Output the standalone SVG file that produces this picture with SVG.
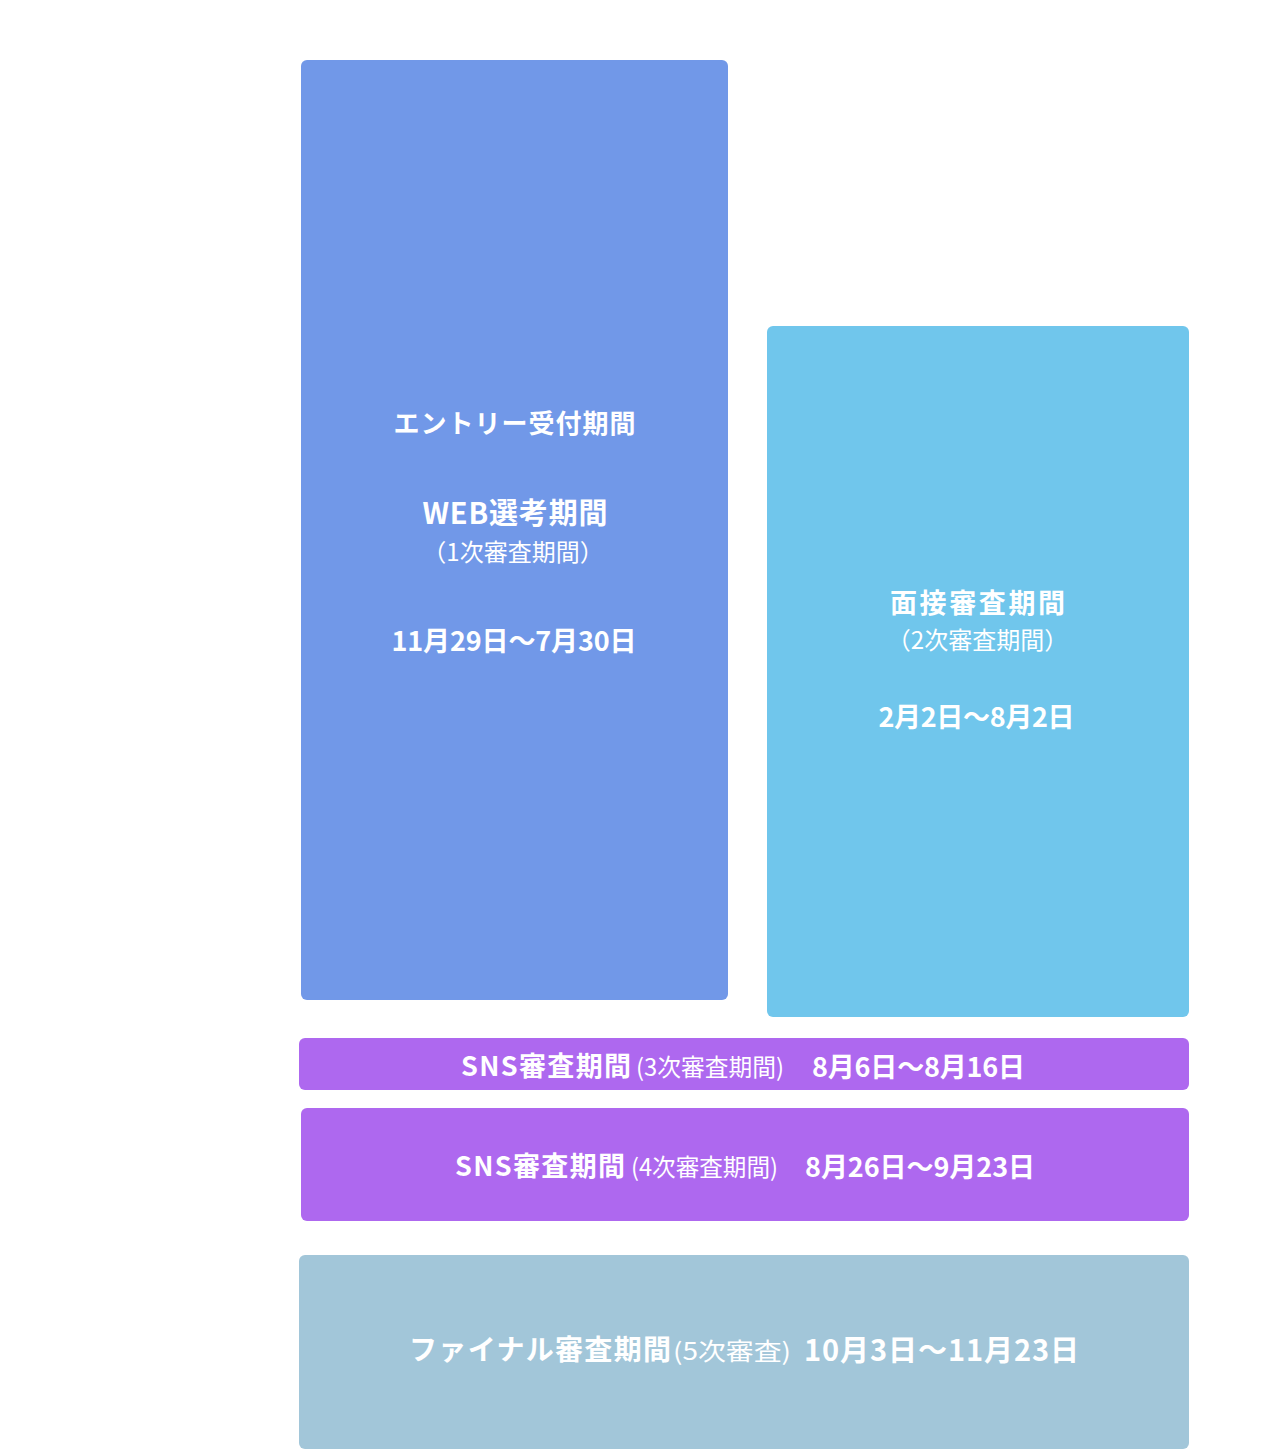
<svg xmlns="http://www.w3.org/2000/svg" width="1264" height="1452" viewBox="0 0 1264 1452">
<style>
.t{font-family:"Noto Sans CJK JP","Noto Sans",sans-serif;fill:#ffffff}
.b{font-weight:700}
.r{font-weight:400}
.m{text-anchor:middle}
</style>
<rect width="1264" height="1452" fill="#ffffff"/>
<g id="entry">
<rect x="301" y="60" width="427" height="940" rx="6" fill="#7198E8"/>
<text class="t b m" x="514.5" y="433" font-size="26" textLength="242">エントリー受付期間</text>
<text class="t b m" x="515" y="524" font-size="29" textLength="185">WEB選考期間</text>
<text class="t r m" x="513" y="561" font-size="24">（1次審査期間）</text>
<text class="t b m" x="514" y="651" font-size="27" textLength="245">11月29日～7月30日</text>
</g>
<g id="interview">
<rect x="767" y="326" width="422" height="691" rx="6" fill="#70C6EC"/>
<text class="t b m" x="977.5" y="613" font-size="27" textLength="175">面接審査期間</text>
<text class="t r m" x="977.5" y="649" font-size="24">（2次審査期間）</text>
<text class="t b m" x="976.5" y="727" font-size="27" textLength="196">2月2日～8月2日</text>
</g>
<g id="sns3">
<rect x="299" y="1038" width="890" height="52" rx="6" fill="#AE68EF"/>
<text class="t b" x="461" y="1076" font-size="27" textLength="170">SNS審査期間</text>
<text class="t r" x="636" y="1076" font-size="24" textLength="148" lengthAdjust="spacingAndGlyphs">(3次審査期間)</text>
<text class="t b" x="812" y="1077" font-size="27" textLength="213">8月6日～8月16日</text>
</g>
<g id="sns4">
<rect x="301" y="1108" width="888" height="113" rx="6" fill="#AE68EF"/>
<text class="t b" x="455" y="1176" font-size="27" textLength="170">SNS審査期間</text>
<text class="t r" x="631" y="1176" font-size="24" textLength="147" lengthAdjust="spacingAndGlyphs">(4次審査期間)</text>
<text class="t b" x="805" y="1177" font-size="27" textLength="230">8月26日～9月23日</text>
</g>
<g id="final">
<rect x="299" y="1255" width="890" height="194" rx="6" fill="#A2C6D9"/>
<text class="t b" x="409" y="1360" font-size="28" textLength="262">ファイナル審査期間</text>
<text class="t r" x="673" y="1360" font-size="24" textLength="118" lengthAdjust="spacingAndGlyphs">(5次審査)</text>
<text class="t b" x="804" y="1361" font-size="29" textLength="275">10月3日～11月23日</text>
</g>
<g id="connectors"></g>
</svg>
